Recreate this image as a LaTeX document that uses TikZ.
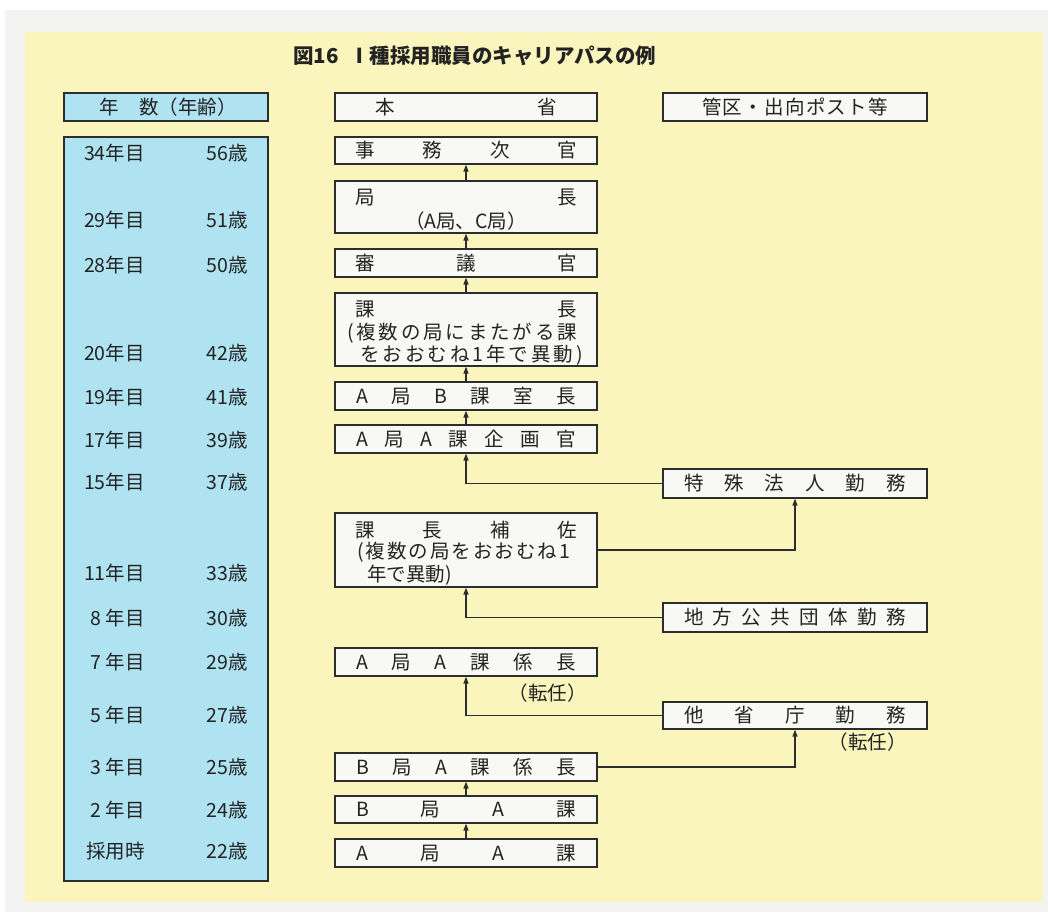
\documentclass[tikz,border=0pt]{standalone}
\usepackage{fontspec}
\setmainfont{Noto Sans CJK JP}
\usetikzlibrary{arrows.meta}
\definecolor{bgyellow}{RGB}{249,245,188}
\definecolor{outergrey}{RGB}{243,243,241}
\definecolor{colblue}{RGB}{176,227,242}
\definecolor{boxfill}{RGB}{248,248,245}
\definecolor{linec}{RGB}{45,45,45}
\definecolor{txtc}{RGB}{35,35,35}
\makeatletter
\newcommand\spreadtext[2]{\makebox[#1][s]{\def\sp@sep{}\@tfor\sp@ch:=#2\do{\sp@sep\sp@ch\def\sp@sep{\hfill}}}}
\makeatother
\begin{document}
\begin{tikzpicture}[x=1pt,y=-1pt,
  box/.style={draw=linec, fill=boxfill, line width=1.2pt, inner sep=0pt, minimum width=262pt, text=txtc, font=\fontsize{19.5}{19.5}\selectfont},
  rbox/.style={box, minimum width=264pt},
  hdrbox/.style={draw=linec, fill=boxfill, line width=2.2pt, inner sep=0pt, minimum height=28pt, text=txtc, font=\fontsize{19.5}{19.5}\selectfont},
  txt/.style={inner sep=0pt, text=txtc, font=\fontsize{19.5}{19.5}\selectfont},
  arr/.style={draw=linec, line width=1.3pt, -{Triangle[length=7pt,width=5pt]}},
  conn/.style={draw=linec, line width=1.3pt}]
\useasboundingbox (0,0) rectangle (1048,912);
\fill[white] (0,0) rectangle (1048,912);
\fill[outergrey] (5,10) rectangle (1048,912);
\fill[bgyellow] (25,32) rectangle (1043,902);

% title
\node[txt, anchor=west, font=\fontsize{20.5}{20.5}\selectfont\bfseries] (t1) at (293,56) {図16};
\node[txt, anchor=west, font=\fontsize{20.5}{20.5}\selectfont\bfseries] (t2) at (349,56) {Ⅰ種採用職員のキャリアパスの例};

% headers
\node[hdrbox, fill=colblue, minimum width=204pt] (hl) at (166,107) {};
\node[txt] (hl1) at (109,107) {年};
\node[txt, anchor=west] (hl2) at (139,107) {数（年齢）};
\node[hdrbox, minimum width=262pt] (hm) at (466,107) {\spreadtext{182pt}{本省}};
\node[hdrbox, minimum width=264pt] (hr) at (795,107) {\spreadtext{186pt}{管区・出向ポスト等}};

% left column
\node[draw=linec, line width=1.2pt, fill=colblue, minimum width=204pt, minimum height=744pt, inner sep=0pt] (col) at (166,509) {};
\foreach \yy/\yr/\ag [count=\i] in {153/34年目/56歳, 220/29年目/51歳, 265/28年目/50歳, 353/20年目/42歳, 397/19年目/41歳, 440/17年目/39歳, 482/15年目/37歳, 573/11年目/33歳, 618/8 年目/30歳, 662/7 年目/29歳, 715/5 年目/27歳, 767/3 年目/25歳, 810/2 年目/24歳, 851/採用時/22歳}{
  \node[txt, anchor=east] (yr\i) at (145,\yy) {\yr};
  \node[txt, anchor=east] (ag\i) at (248,\yy) {\ag};
}

% main column
\node[box, minimum height=27pt] (jm) at (466,150.5) {\spreadtext{222pt}{事務次官}};
\node[box, minimum height=52pt] (kyoku) at (466,207) {};
\node[txt] (kyoku1) at (466,198) {\spreadtext{222pt}{局長}};
\node[txt] (kyoku2) at (466,221) {（A局、C局）};
\node[box, minimum height=28pt] (sg) at (466,263) {\spreadtext{222pt}{審議官}};
\node[box, minimum height=73pt] (kc) at (466,329.5) {};
\node[txt] (kc1) at (466,309) {\spreadtext{222pt}{課長}};
\node[txt] (kc2) at (462,333) {\spreadtext{230pt}{(複数の局にまたがる課}};
\node[txt] (kc3) at (471.5,355) {\spreadtext{223pt}{をおおむね1年で異動)}};
\node[box, minimum height=28pt] (sc) at (466,396) {\spreadtext{220pt}{A局B課室長}};
\node[box, minimum height=28pt] (kk) at (466,439) {\spreadtext{220pt}{A局A課企画官}};
\node[box, minimum height=74pt] (kh) at (466,550) {};
\node[txt] (kh1) at (466,530) {\spreadtext{222pt}{課長補佐}};
\node[txt] (kh2) at (463.5,552) {\spreadtext{213pt}{(複数の局をおおむね1}};
\node[txt, anchor=west] (kh3) at (367,575) {年で異動)};
\node[box, minimum height=28pt] (aak) at (466,662) {\spreadtext{220pt}{A局A課係長}};
\node[txt, anchor=east] (tn1) at (587,693) {（転任）};
\node[box, minimum height=28pt] (bak) at (466,767) {\spreadtext{220pt}{B局A課係長}};
\node[box, minimum height=27pt] (ba) at (466,809.5) {\spreadtext{220pt}{B局A課}};
\node[box, minimum height=28pt] (aa) at (466,853) {\spreadtext{220pt}{A局A課}};

% right column
\node[rbox, minimum height=29pt] (tk) at (795,483.5) {\spreadtext{222pt}{特殊法人勤務}};
\node[rbox, minimum height=29pt] (ch) at (795,617.5) {\spreadtext{222pt}{地方公共団体勤務}};
\node[rbox, minimum height=27pt] (ts) at (795,715.5) {\spreadtext{222pt}{他省庁勤務}};
\node[txt, anchor=east] (tn2) at (907,742) {（転任）};

% vertical arrows
\draw[arr] (aa.north) -- (ba.south);
\draw[arr] (ba.north) -- (bak.south);
\draw[arr] (sc.north) -- (kc.south);
\draw[arr] (kk.north) -- (sc.south);
\draw[arr] (kc.north) -- (sg.south);
\draw[arr] (sg.north) -- (kyoku.south);
\draw[arr] (kyoku.north) -- (jm.south);

% side connectors
\draw[arr] (tk.west) -| (kk.south);
\draw[arr] (kh.east) -| (tk.south);
\draw[arr] (ch.west) -| (kh.south);
\draw[arr] (ts.west) -| (aak.south);
\draw[arr] (bak.east) -| (ts.south);
\end{tikzpicture}
\end{document}
